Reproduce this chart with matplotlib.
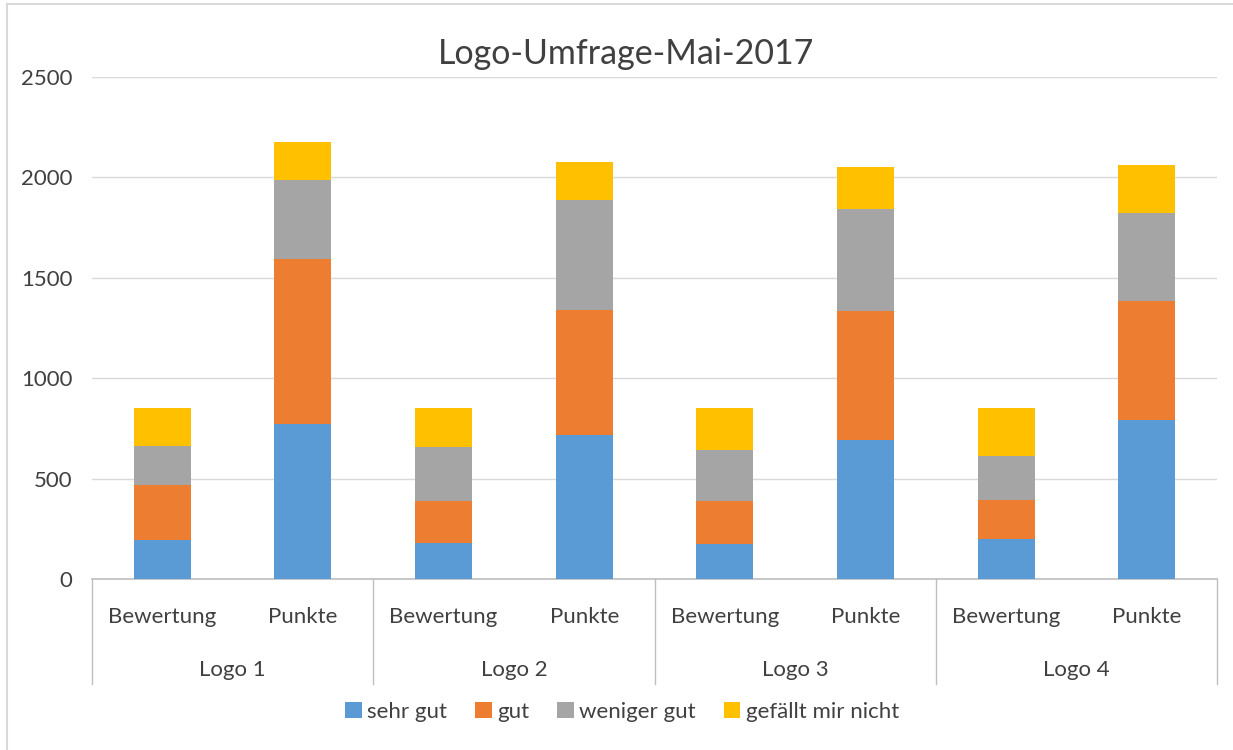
import matplotlib
matplotlib.use("Agg")
import matplotlib.pyplot as plt
from matplotlib.lines import Line2D
import numpy as np

plt.rcParams['font.family'] = ['Lato', 'DejaVu Sans']

groups = ["Logo 1", "Logo 2", "Logo 3", "Logo 4"]
subcats = ["Bewertung", "Punkte"]
series_names = ["sehr gut", "gut", "weniger gut", "gefällt mir nicht"]
colors = ["#5B9BD5", "#ED7D31", "#A5A5A5", "#FFC000"]

# values per bar, order: L1 Bew, L1 Pkt, L2 Bew, L2 Pkt, L3 Bew, L3 Pkt, L4 Bew, L4 Pkt
sehr_gut = [192, 774, 181, 719, 172, 694, 197, 794]
gut = [274, 821, 206, 622, 215, 642, 198, 591]
weniger_gut = [198, 394, 272, 548, 253, 508, 219, 438]
gefaellt_nicht = [189, 189, 194, 190, 213, 209, 239, 239]
series = [sehr_gut, gut, weniger_gut, gefaellt_nicht]

yticks = [0, 500, 1000, 1500, 2000, 2500]
title = "Logo-Umfrage-Mai-2017"

W, H = 1233, 750
fig = plt.figure(figsize=(W / 100, H / 100), dpi=100)
txt = "#404040"
fs = 16

# axes placement in pixels
left, right, top, bottom = 92, 1217, 77, 579
ax = fig.add_axes([left / W, 1 - bottom / H, (right - left) / W, (bottom - top) / H])

x = np.arange(len(sehr_gut))
base = np.zeros(len(x))
for vals, name, c in zip(series, series_names, colors):
    ax.bar(x, vals, bottom=base, width=0.405, color=c, label=name, zorder=3)
    base += np.array(vals)

ax.set_xlim(-0.5, len(x) - 0.5)
ax.set_ylim(0, 2500)
ax.set_yticks(yticks)
ax.set_yticklabels([str(t) for t in yticks], fontsize=fs, color=txt)
ax.tick_params(axis='y', length=0, pad=14)
ax.set_xticks([])
for s in ["top", "right", "left"]:
    ax.spines[s].set_visible(False)
ax.spines["bottom"].set_color("#bfbfbf")
ax.spines["bottom"].set_linewidth(1.2)
ax.yaxis.grid(True, color="#d9d9d9", linewidth=1.0)
ax.set_axisbelow(True)

# multi-level category axis
trans = ax.get_xaxis_transform()
px = 1.0 / (bottom - top)
for i, lab in enumerate([s for g in groups for s in subcats]):
    ax.text(i, -(617 - bottom) * px, lab, transform=trans, ha='center', va='center',
            fontsize=fs, color=txt, clip_on=False)
for gi, g in enumerate(groups):
    ax.text(gi * 2 + 0.5, -(670 - bottom) * px, g, transform=trans, ha='center', va='center',
            fontsize=fs, color=txt, clip_on=False)
for b in range(len(groups) + 1):
    ax.add_line(Line2D([b * 2 - 0.5, b * 2 - 0.5], [0, -(684 - bottom) * px], transform=trans,
                       color="#bfbfbf", linewidth=1.0, clip_on=False))

fig.text(626 / W, 1 - 54 / H, title, ha='center', va='center', fontsize=24.5, color=txt)

handles, labels = ax.get_legend_handles_labels()
leg = fig.legend(handles, labels, loc='center', bbox_to_anchor=(622 / W, 1 - 712 / H), ncol=4,
                 frameon=False, fontsize=fs, handlelength=0.75, handleheight=0.75,
                 handletextpad=0.25, columnspacing=1.25)
for t in leg.get_texts():
    t.set_color(txt)

# chart-area border (only left and top visible in the reference crop)
fig.add_artist(Line2D([7 / W, 7 / W], [0, 1 - 4 / H], transform=fig.transFigure,
                      color="#d9d9d9", linewidth=1.5))
fig.add_artist(Line2D([7 / W, 1], [1 - 4 / H, 1 - 4 / H], transform=fig.transFigure,
                      color="#d9d9d9", linewidth=1.5))

fig.savefig("out.png", dpi=100)
